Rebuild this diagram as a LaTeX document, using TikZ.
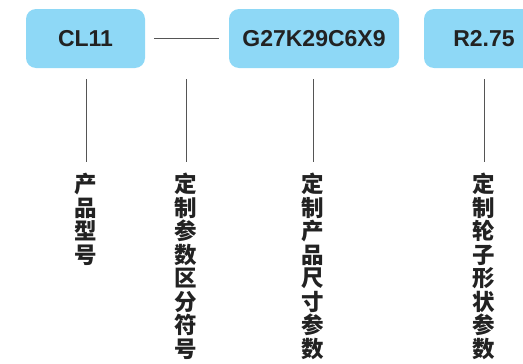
\documentclass[tikz,border=0pt]{standalone}
\usepackage{fontspec}
\setmainfont{Liberation Sans}
\newfontfamily\cjk{Noto Sans CJK SC}
\definecolor{boxblue}{HTML}{8ED8F6}
\definecolor{ink}{HTML}{222222}
\definecolor{linegray}{HTML}{555555}
\begin{document}
\begin{tikzpicture}[x=1pt,y=-1pt,
  codebox/.style={fill=boxblue,rounded corners=10pt,minimum height=59pt,inner sep=0pt,
    font=\fontsize{23}{23}\selectfont\bfseries,text=ink},
  vlabel/.style={anchor=north,align=center,inner sep=0pt,text=ink,
    font=\cjk\fontsize{22.5}{23.5}\selectfont\bfseries},
  tick/.style={draw=linegray,line width=1pt}]
\useasboundingbox (0,0) rectangle (523,364);
\clip (0,0) rectangle (523,364);
\node[codebox,minimum width=119pt] (b1) at (85.5,38.5) {CL11};
\node[codebox,minimum width=170pt] (b2) at (314,38.5) {G27K29C6X9};
\node[codebox,minimum width=120pt] (b3) at (484,38.5) {R2.75};
\draw[tick] ([xshift=9pt]b1.east) -- ([xshift=-10pt]b2.west);
\coordinate (t1) at (86,79);
\coordinate (t2) at (186,79);
\coordinate (t3) at (313,79);
\coordinate (t4) at (484,79);
\node[vlabel] (l1) at (86,173) {产\\品\\型\\号};
\node[vlabel] (l2) at (186,173) {定\\制\\参\\数\\区\\分\\符\\号};
\node[vlabel] (l3) at (313,173) {定\\制\\产\\品\\尺\\寸\\参\\数};
\node[vlabel] (l4) at (484,173) {定\\制\\轮\\子\\形\\状\\参\\数};
\draw[tick] (t1) -- ([yshift=11pt]l1.north);
\draw[tick] (t2) -- ([yshift=11pt]l2.north);
\draw[tick] (t3) -- ([yshift=11pt]l3.north);
\draw[tick] (t4) -- ([yshift=11pt]l4.north);
\end{tikzpicture}
\end{document}
